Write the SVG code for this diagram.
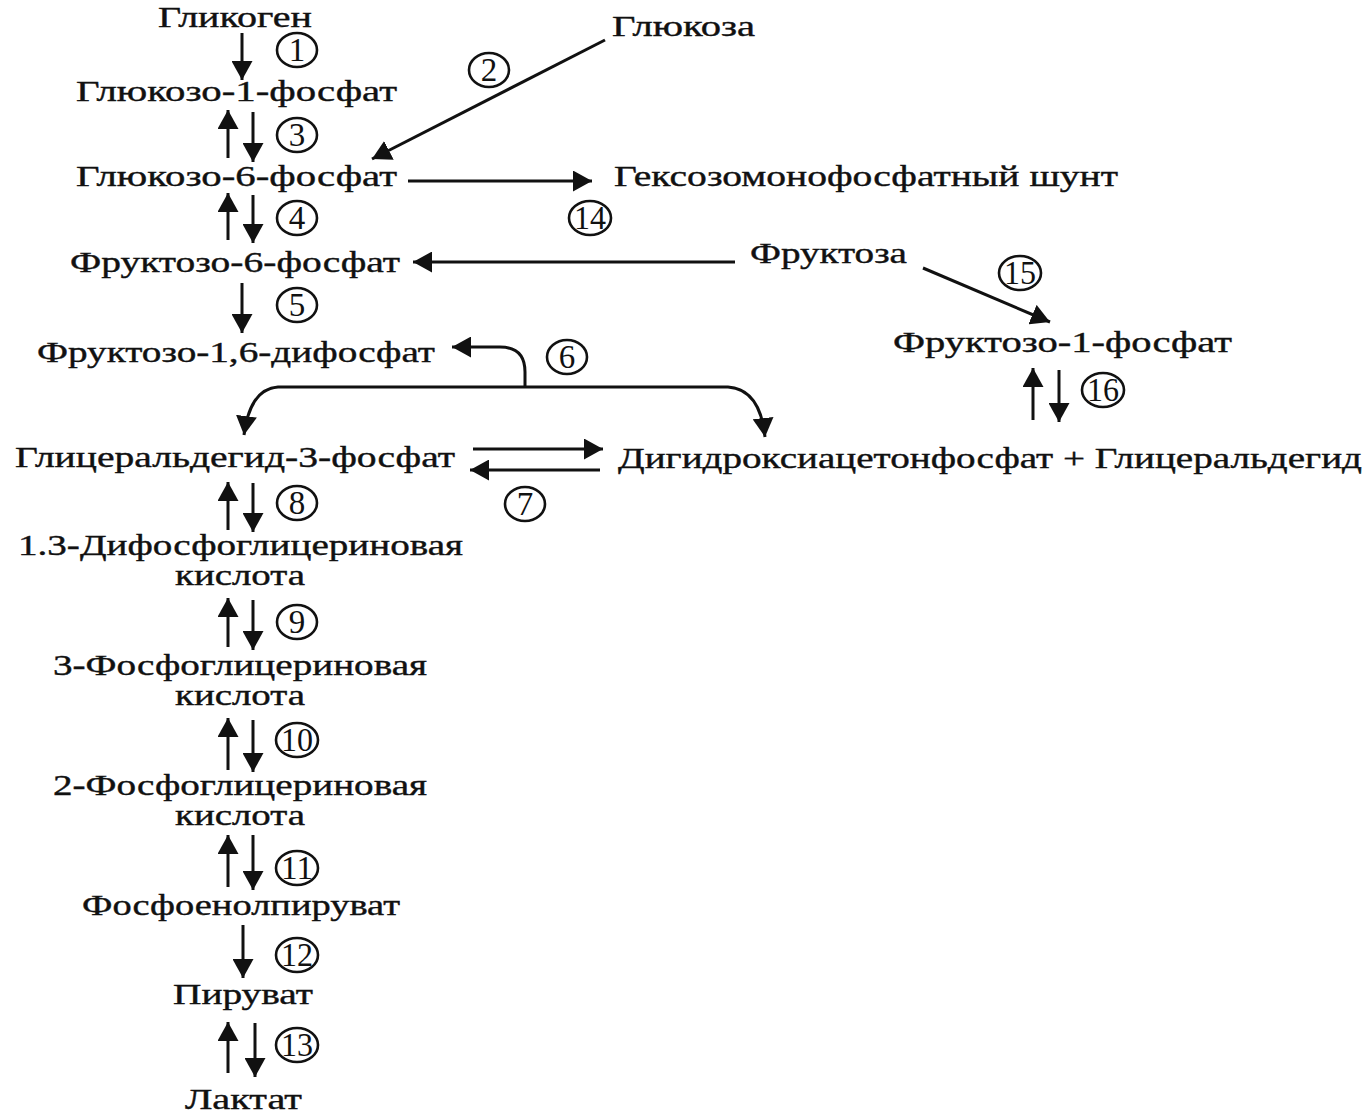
<svg xmlns="http://www.w3.org/2000/svg" width="1369" height="1116" viewBox="0 0 1369 1116">
<style>
  .t { font-family: "Liberation Serif", "Times New Roman", serif; font-size: 30px; fill: #111; stroke: #111; stroke-width: 0.4; }
  .n { font-family: "Liberation Serif", "Times New Roman", serif; font-size: 33px; fill: #111; text-anchor: middle; }
  .c { fill: none; stroke: #111; stroke-width: 2.6; }
  .a { fill: none; stroke: #111; stroke-width: 3; }
</style>
<defs>
  <marker id="ah" viewBox="0 0 10 10" refX="10" refY="5" markerWidth="19" markerHeight="21" markerUnits="userSpaceOnUse" orient="auto" preserveAspectRatio="none">
    <path d="M0,0 L10,5 L0,10 z" fill="#111"/>
  </marker>
</defs>
<rect width="1369" height="1116" fill="#fff"/>

<g id="connectors">
  <line class="a" x1="242" y1="33" x2="242" y2="80" marker-end="url(#ah)"/>
  <line class="a" x1="228" y1="158" x2="228" y2="110" marker-end="url(#ah)"/>
  <line class="a" x1="253" y1="112" x2="253" y2="162" marker-end="url(#ah)"/>
  <line class="a" x1="228" y1="240" x2="228" y2="193" marker-end="url(#ah)"/>
  <line class="a" x1="253" y1="195" x2="253" y2="243" marker-end="url(#ah)"/>
  <line class="a" x1="242" y1="283" x2="242" y2="333" marker-end="url(#ah)"/>
  <line class="a" x1="228" y1="530" x2="228" y2="482" marker-end="url(#ah)"/>
  <line class="a" x1="253" y1="483" x2="253" y2="532" marker-end="url(#ah)"/>
  <line class="a" x1="228" y1="647" x2="228" y2="598" marker-end="url(#ah)"/>
  <line class="a" x1="253" y1="600" x2="253" y2="650" marker-end="url(#ah)"/>
  <line class="a" x1="228" y1="770" x2="228" y2="718" marker-end="url(#ah)"/>
  <line class="a" x1="253" y1="720" x2="253" y2="772" marker-end="url(#ah)"/>
  <line class="a" x1="228" y1="887" x2="228" y2="835" marker-end="url(#ah)"/>
  <line class="a" x1="253" y1="835" x2="253" y2="890" marker-end="url(#ah)"/>
  <line class="a" x1="243" y1="925" x2="243" y2="978" marker-end="url(#ah)"/>
  <line class="a" x1="228" y1="1073" x2="228" y2="1022" marker-end="url(#ah)"/>
  <line class="a" x1="255" y1="1023" x2="255" y2="1077" marker-end="url(#ah)"/>
  <line class="a" x1="1033" y1="420" x2="1033" y2="368" marker-end="url(#ah)"/>
  <line class="a" x1="1059" y1="370" x2="1059" y2="422" marker-end="url(#ah)"/>
  <line class="a" x1="605" y1="40" x2="372" y2="159" marker-end="url(#ah)"/>
  <line class="a" x1="408" y1="181" x2="592" y2="181" marker-end="url(#ah)"/>
  <line class="a" x1="735" y1="262" x2="413" y2="262" marker-end="url(#ah)"/>
  <line class="a" x1="923" y1="268" x2="1050" y2="322" marker-end="url(#ah)"/>
  <path class="a" d="M525,387 L525,372 Q525,347 500,347 L452,347" marker-end="url(#ah)"/>
  <path class="a" d="M525,387 L278,387 Q250,389 244,435" marker-end="url(#ah)"/>
  <path class="a" d="M525,387 L728,387 Q760,389 765,437" marker-end="url(#ah)"/>
  <line class="a" x1="473" y1="449" x2="603" y2="449" marker-end="url(#ah)"/>
  <line class="a" x1="600" y1="470" x2="470" y2="470" marker-end="url(#ah)"/>
</g>

<g id="labels">
  <g id="l1"><ellipse class="c" cx="297" cy="50" rx="20" ry="17"/><text class="n" x="297" y="61">1</text></g>
  <g id="l2"><ellipse class="c" cx="489" cy="70" rx="20" ry="17"/><text class="n" x="489" y="81">2</text></g>
  <g id="l3"><ellipse class="c" cx="297" cy="135" rx="20" ry="17"/><text class="n" x="297" y="146">3</text></g>
  <g id="l4"><ellipse class="c" cx="297" cy="218" rx="20" ry="17"/><text class="n" x="297" y="229">4</text></g>
  <g id="l5"><ellipse class="c" cx="297" cy="305" rx="20" ry="17"/><text class="n" x="297" y="316">5</text></g>
  <g id="l6"><ellipse class="c" cx="567" cy="357" rx="20" ry="17"/><text class="n" x="567" y="368">6</text></g>
  <g id="l7"><ellipse class="c" cx="525" cy="504" rx="20" ry="17"/><text class="n" x="525" y="515">7</text></g>
  <g id="l8"><ellipse class="c" cx="297" cy="503" rx="20" ry="17"/><text class="n" x="297" y="514">8</text></g>
  <g id="l9"><ellipse class="c" cx="297" cy="622" rx="20" ry="17"/><text class="n" x="297" y="633">9</text></g>
  <g id="l10"><ellipse class="c" cx="297" cy="740" rx="21" ry="17"/><text class="n" x="297" y="751" textLength="32" lengthAdjust="spacingAndGlyphs">10</text></g>
  <g id="l11"><ellipse class="c" cx="297" cy="868" rx="21" ry="17"/><text class="n" x="297" y="879" textLength="32" lengthAdjust="spacingAndGlyphs">11</text></g>
  <g id="l12"><ellipse class="c" cx="297" cy="955" rx="21" ry="17"/><text class="n" x="297" y="966" textLength="32" lengthAdjust="spacingAndGlyphs">12</text></g>
  <g id="l13"><ellipse class="c" cx="297" cy="1045" rx="21" ry="17"/><text class="n" x="297" y="1056" textLength="32" lengthAdjust="spacingAndGlyphs">13</text></g>
  <g id="l14"><ellipse class="c" cx="590" cy="218" rx="21" ry="17"/><text class="n" x="590" y="229" textLength="32" lengthAdjust="spacingAndGlyphs">14</text></g>
  <g id="l15"><ellipse class="c" cx="1020" cy="273" rx="21" ry="17"/><text class="n" x="1020" y="284" textLength="32" lengthAdjust="spacingAndGlyphs">15</text></g>
  <g id="l16"><ellipse class="c" cx="1103" cy="390" rx="21" ry="17"/><text class="n" x="1103" y="401" textLength="32" lengthAdjust="spacingAndGlyphs">16</text></g>
</g>

<g id="n-glycogen"><text class="t" x="158" y="27" textLength="154" lengthAdjust="spacingAndGlyphs">Гликоген</text></g>
<g id="n-g1p"><text class="t" x="76" y="101" textLength="321" lengthAdjust="spacingAndGlyphs">Глюкозо-1-фосфат</text></g>
<g id="n-glucose"><text class="t" x="612" y="36" textLength="143" lengthAdjust="spacingAndGlyphs">Глюкоза</text></g>
<g id="n-g6p"><text class="t" x="76" y="186" textLength="321" lengthAdjust="spacingAndGlyphs">Глюкозо-6-фосфат</text></g>
<g id="n-shunt"><text class="t" x="614" y="186" textLength="504" lengthAdjust="spacingAndGlyphs">Гексозомонофосфатный шунт</text></g>
<g id="n-f6p"><text class="t" x="70" y="272" textLength="330" lengthAdjust="spacingAndGlyphs">Фруктозо-6-фосфат</text></g>
<g id="n-fructose"><text class="t" x="750" y="263" textLength="157" lengthAdjust="spacingAndGlyphs">Фруктоза</text></g>
<g id="n-f1p"><text class="t" x="893" y="352" textLength="339" lengthAdjust="spacingAndGlyphs">Фруктозо-1-фосфат</text></g>
<g id="n-f16"><text class="t" x="37" y="362" textLength="398" lengthAdjust="spacingAndGlyphs">Фруктозо-1,6-дифосфат</text></g>
<g id="n-gap"><text class="t" x="15" y="467" textLength="440" lengthAdjust="spacingAndGlyphs">Глицеральдегид-3-фосфат</text></g>
<g id="n-dhap"><text class="t" x="618" y="468" textLength="744" lengthAdjust="spacingAndGlyphs">Дигидроксиацетонфосфат + Глицеральдегид</text></g>
<g id="n-13bpg">
  <text class="t" x="18" y="555" textLength="445" lengthAdjust="spacingAndGlyphs">1.3-Дифосфоглицериновая</text>
  <text class="t" x="175" y="585" textLength="130" lengthAdjust="spacingAndGlyphs">кислота</text>
</g>
<g id="n-3pg">
  <text class="t" x="53" y="675" textLength="374" lengthAdjust="spacingAndGlyphs">3-Фосфоглицериновая</text>
  <text class="t" x="175" y="705" textLength="130" lengthAdjust="spacingAndGlyphs">кислота</text>
</g>
<g id="n-2pg">
  <text class="t" x="53" y="795" textLength="374" lengthAdjust="spacingAndGlyphs">2-Фосфоглицериновая</text>
  <text class="t" x="175" y="825" textLength="130" lengthAdjust="spacingAndGlyphs">кислота</text>
</g>
<g id="n-pep"><text class="t" x="82" y="915" textLength="318" lengthAdjust="spacingAndGlyphs">Фосфоенолпируват</text></g>
<g id="n-pyr"><text class="t" x="173" y="1004" textLength="140" lengthAdjust="spacingAndGlyphs">Пируват</text></g>
<g id="n-lac"><text class="t" x="185" y="1109" textLength="117" lengthAdjust="spacingAndGlyphs">Лактат</text></g>
</svg>
